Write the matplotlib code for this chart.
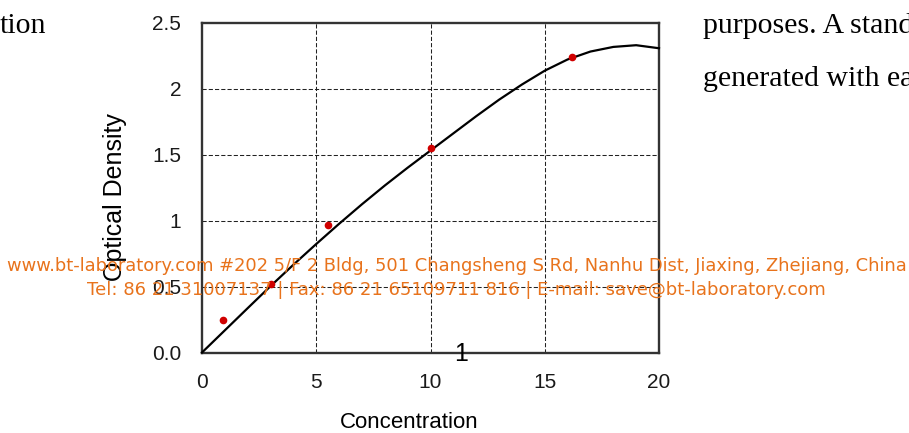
#!/usr/bin/env python3
"""
Standard curve screenshot: Optical Density vs Concentration,
with page text and the orange watermark lines on top.
"""

import matplotlib
matplotlib.use('Agg')
import matplotlib.pyplot as plt

# standard points (red dots)
conc_points = [0.9, 3.0, 5.5, 10.0, 16.2]
od_points = [0.245, 0.52, 0.965, 1.55, 2.24]

# fitted curve at each unit of concentration
curve_conc = [0, 1, 2, 3, 4, 5, 6, 7, 8, 9, 10,
              11, 12, 13, 14, 15, 16, 17, 18, 19, 20]
curve_od = [0.0, 0.168, 0.336, 0.503, 0.665, 0.822, 0.975, 1.123, 1.265, 1.40, 1.53,
            1.66, 1.79, 1.915, 2.03, 2.135, 2.22, 2.28, 2.315, 2.328, 2.305]

x_ticks = [0, 5, 10, 15, 20]
y_ticks = [0.0, 0.5, 1.0, 1.5, 2.0, 2.5]
y_tick_labels = ['0.0', '0.5', '1', '1.5', '2', '2.5']

watermark_1 = 'www.bt-laboratory.com #202 5/F 2 Bldg, 501 Changsheng S Rd, Nanhu Dist, Jiaxing, Zhejiang, China'
watermark_2 = 'Tel: 86 21 31007137 | Fax: 86 21 65109711 816 | E-mail: save@bt-laboratory.com'

W, H = 909, 433
ORANGE = '#e8731c'

# axes box in picture pixels
AX_L, AX_R, AX_T, AX_B = 202, 659, 22.5, 352.5


def fx(px):
    return px / W


def fy(py):
    return 1 - py / H


def main():
    fig = plt.figure(figsize=(W / 100, H / 100), dpi=100)
    fig.patch.set_facecolor('white')

    ax = fig.add_axes([fx(AX_L), fy(AX_B), fx(AX_R) - fx(AX_L), fy(AX_T) - fy(AX_B)])
    ax.set_xlim(0, 20)
    ax.set_ylim(0, 2.5)

    # dashed grid only on the inner ticks
    for xv in x_ticks[1:-1]:
        ax.axvline(xv, color='#222222', lw=0.75, ls=(0, (4, 2)), zorder=1)
    for yv in y_ticks[1:-1]:
        ax.axhline(yv, color='#222222', lw=0.75, ls=(0, (4, 2)), zorder=1)

    ax.plot(curve_conc, curve_od, color='black', lw=1.6, zorder=3, clip_on=False)
    ax.plot(conc_points, od_points, 'o', color='#d00000', markersize=5.5,
            markeredgewidth=0, zorder=4)

    for s in ax.spines.values():
        s.set_color('#333333')
        s.set_linewidth(1.7)

    ax.set_xticks(x_ticks)
    ax.set_yticks(y_ticks)
    ax.set_yticklabels(y_tick_labels)
    ax.tick_params(length=0, labelsize=15)
    ax.tick_params(axis='x', pad=15)
    ax.tick_params(axis='y', pad=15)
    for lbl in ax.get_xticklabels() + ax.get_yticklabels():
        lbl.set_fontfamily('Liberation Sans')
        lbl.set_color('#1a1a1a')

    ax.set_xlabel('Concentration', fontsize=16, family='Liberation Sans')
    ax.set_ylabel('Optical Density', fontsize=18, family='Liberation Sans')
    ax.xaxis.set_label_coords((409 - AX_L) / (AX_R - AX_L), (AX_B - 422) / (AX_B - AX_T))
    ax.yaxis.set_label_coords((115 - AX_L) / (AX_R - AX_L), (AX_B - 197) / (AX_B - AX_T))
    ax.xaxis.label.set_va('center')
    ax.yaxis.label.set_va('center')

    # surrounding page text (cut by the picture edges as in the screenshot)
    fig.text(fx(0), fy(33), 'tion', family='Liberation Serif', fontsize=21.5,
             va='baseline', ha='left')
    fig.text(fx(703), fy(33), 'purposes. A stand', family='Liberation Serif',
             fontsize=21.5, va='baseline', ha='left')
    fig.text(fx(703), fy(86), 'generated with ea', family='Liberation Serif',
             fontsize=21.5, va='baseline', ha='left')
    fig.text(fx(461), fy(354), '1', family='Liberation Sans', fontsize=18,
             va='center', ha='center')

    # watermark, sized to the width it has in the picture
    renderer = fig.canvas.get_renderer()
    for text, cy, width in [(watermark_1, 266, 897), (watermark_2, 290, 735)]:
        t = fig.text(fx(456.5), fy(cy), text, family='DejaVu Sans', fontsize=12,
                     color=ORANGE, ha='center', va='center', zorder=10)
        w = t.get_window_extent(renderer).width
        t.set_fontsize(12 * width / w)

    fig.savefig('out.png', dpi=100)
    plt.close(fig)


if __name__ == '__main__':
    main()
